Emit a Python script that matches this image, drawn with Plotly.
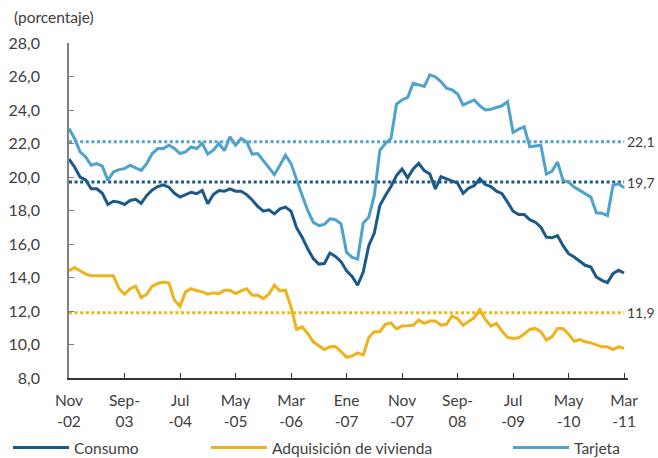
import plotly.graph_objects as go

# ---- categories (monthly, Nov-02 .. Mar-11) ----
mes_abrev = ["Ene", "Feb", "Mar", "Abr", "May", "Jun", "Jul", "Ago", "Sep", "Oct", "Nov", "Dic"]
months = []
y, m = 2002, 10
while (y, m) <= (2011, 2):
    months.append(f"{mes_abrev[m]}-{str(y)[2:]}")
    m += 1
    if m == 12:
        m, y = 0, y + 1

tick_positions = [0, 10, 20, 30, 40, 50, 60, 70, 80, 90, 100]
tick_labels = ["Nov<br>-02", "Sep-<br>03", "Jul<br>-04", "May<br>-05", "Mar<br>-06", "Ene<br>-07",
               "Nov<br>-07", "Sep-<br>08", "Jul<br>-09", "May<br>-10", "Mar<br>-11"]

# ---- series (porcentaje) ----
consumo = [21.07, 20.6, 20.0, 19.83, 19.3, 19.3, 19.03, 18.36, 18.55, 18.5,
           18.36, 18.6, 18.67, 18.43, 18.9, 19.23, 19.43, 19.53, 19.39, 19.03,
           18.8, 18.95, 19.09, 19.0, 19.2, 18.4, 18.95, 19.19, 19.15, 19.29,
           19.15, 19.15, 18.95, 18.63, 18.24, 17.96, 18.04, 17.8, 18.1, 18.2,
           17.96, 16.97, 16.41, 15.72, 15.13, 14.8, 14.83, 15.46, 15.26, 14.95,
           14.4, 14.07, 13.54, 14.33, 15.9, 16.65, 18.3, 18.9, 19.43, 20.08,
           20.48, 19.95, 20.48, 20.82, 20.38, 20.18, 19.29, 20.02, 19.89, 19.75,
           19.63, 19.03, 19.33, 19.49, 19.89, 19.55, 19.43, 19.15, 19.0, 18.5,
           17.96, 17.76, 17.76, 17.45, 17.3, 17.0, 16.41, 16.37, 16.5, 15.9,
           15.42, 15.22, 14.98, 14.73, 14.63, 14.03, 13.83, 13.7, 14.23, 14.43,
           14.27]

vivienda = [14.4, 14.6, 14.4, 14.2, 14.11, 14.11, 14.11, 14.11, 14.11, 13.33,
            13.0, 13.33, 13.48, 12.8, 13.0, 13.48, 13.64, 13.73, 13.67, 12.64,
            12.29, 13.14, 13.33, 13.22, 13.14, 13.0, 13.08, 13.04, 13.24, 13.24,
            13.04, 13.2, 13.33, 12.94, 12.94, 12.74, 13.0, 13.54, 13.2, 13.24,
            12.24, 10.9, 11.05, 10.66, 10.16, 9.93, 9.7, 9.86, 9.88, 9.58,
            9.23, 9.31, 9.5, 9.37, 10.42, 10.76, 10.76, 11.2, 11.29, 10.93,
            11.1, 11.12, 11.15, 11.45, 11.26, 11.4, 11.4, 11.15, 11.2, 11.7,
            11.55, 11.15, 11.35, 11.6, 12.07, 11.5, 11.1, 11.26, 10.8, 10.42,
            10.36, 10.4, 10.62, 10.9, 10.96, 10.76, 10.26, 10.46, 10.96, 10.96,
            10.62, 10.2, 10.3, 10.16, 10.1, 9.96, 9.86, 9.86, 9.7, 9.86,
            9.77]

tarjeta = [22.9, 22.3, 21.5, 21.2, 20.7, 20.8, 20.65, 19.8, 20.3, 20.44,
           20.5, 20.7, 20.55, 20.4, 20.8, 21.4, 21.7, 21.7, 21.9, 21.7,
           21.4, 21.5, 21.8, 21.7, 22.0, 21.37, 21.6, 22.0, 21.57, 22.4,
           21.9, 22.3, 22.1, 21.37, 21.4, 21.0, 20.6, 20.14, 20.7, 21.3,
           20.8, 19.8, 18.9, 18.0, 17.3, 17.1, 17.17, 17.5, 17.45, 17.2,
           15.5, 15.2, 15.1, 17.25, 17.6, 18.9, 21.6, 22.0, 22.3, 24.35,
           24.6, 24.75, 25.6, 25.5, 25.4, 26.1, 25.98, 25.7, 25.3, 25.2,
           24.95, 24.3, 24.45, 24.6, 24.25, 24.0, 24.05, 24.15, 24.25, 24.5,
           22.66, 22.86, 23.0, 21.8, 21.87, 21.9, 20.18, 20.34, 20.9, 19.8,
           19.7, 19.4, 19.2, 19.0, 18.8, 17.86, 17.84, 17.7, 19.5, 19.6,
           19.35]

promedio_consumo = 19.7
promedio_vivienda = 11.9
promedio_tarjeta = 22.1

# ---- styles ----
C_CONS = "#1B5A88"
C_VIV = "#EFB21A"
C_TAR = "#4FA2CD"
TXT = "#404040"
FONT = "Lato"
FS = 15.5

fig = go.Figure()

for avg, col in [(promedio_tarjeta, C_TAR), (promedio_consumo, C_CONS), (promedio_vivienda, C_VIV)]:
    fig.add_trace(go.Scatter(
        x=[months[0], months[-1]], y=[avg, avg], mode="lines",
        line=dict(color=col, width=3, dash="3px,2.6px"),
        showlegend=False, hoverinfo="skip"))

fig.add_trace(go.Scatter(x=months, y=vivienda, mode="lines", name="Adquisición de vivienda",
                         line=dict(color=C_VIV, width=3), legend="legend2"))
fig.add_trace(go.Scatter(x=months, y=tarjeta, mode="lines", name="Tarjeta",
                         line=dict(color=C_TAR, width=3), legend="legend3"))
fig.add_trace(go.Scatter(x=months, y=consumo, mode="lines", name="Consumo",
                         line=dict(color=C_CONS, width=3), legend="legend"))

PLOT_L, PLOT_R = 69, 628
PW = PLOT_R - PLOT_L

for avg in [promedio_tarjeta, promedio_consumo, promedio_vivienda]:
    fig.add_annotation(x=(657 - PLOT_L) / PW, xref="paper", xanchor="right",
                       y=avg, yref="y", yanchor="middle",
                       text=f"{avg:.1f}".replace(".", ","), showarrow=False,
                       font=dict(family=FONT, size=14, color=TXT))

fig.add_annotation(x=(12 - PLOT_L) / PW, xref="paper", xanchor="left",
                   y=1, yref="paper", yanchor="bottom", yshift=15,
                   text="(porcentaje)", showarrow=False,
                   font=dict(family=FONT, size=FS, color=TXT))

leg_common = dict(orientation="h", xanchor="left", yanchor="top", y=-0.158,
                  font=dict(family=FONT, size=FS, color=TXT), itemwidth=56,
                  bgcolor="rgba(0,0,0,0)", borderwidth=0, tracegroupgap=0)

fig.update_layout(
    width=658, height=458,
    margin=dict(l=PLOT_L, r=658 - PLOT_R, t=43, b=80, autoexpand=False),
    paper_bgcolor="white", plot_bgcolor="white",
    separators=",.",
    font=dict(family=FONT, size=FS, color=TXT),
    legend=dict(x=(8 - PLOT_L) / PW, **leg_common),
    legend2=dict(x=(206 - PLOT_L) / PW, **leg_common),
    legend3=dict(x=(508 - PLOT_L) / PW, **leg_common),
    xaxis=dict(type="category", categoryorder="array", categoryarray=months,
               range=[0, 100.7], tickmode="array",
               tickvals=[months[i] for i in tick_positions], ticktext=tick_labels,
               ticks="inside", ticklen=5, tickcolor="#333333", tickwidth=1,
               showline=True, linecolor="#333333", linewidth=1.5,
               showgrid=False, zeroline=False, ticklabelstandoff=8,
               tickfont=dict(family=FONT, size=FS, color=TXT)),
    yaxis=dict(range=[8, 28], dtick=2, tickformat=".1f",
               ticks="inside", ticklen=5, tickcolor="#808080", tickwidth=1,
               showline=True, linecolor="#808080", linewidth=1.5,
               showgrid=False, zeroline=False, ticklabelstandoff=24,
               tickfont=dict(family=FONT, size=16, color=TXT)),
)

fig.write_html("out.html", config={"displayModeBar": False},
               post_script="document.body.style.margin='0px';document.body.style.overflow='hidden';")
